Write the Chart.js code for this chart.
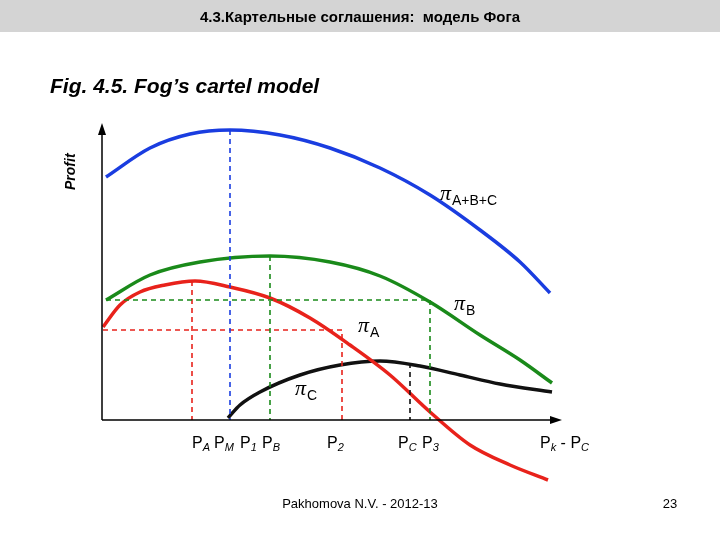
<!DOCTYPE html>
<html><head><meta charset="utf-8">
<script src="https://cdn.jsdelivr.net/npm/chart.js@4.4.0/dist/chart.umd.min.js"></script>
<style>body{margin:0;background:#fff}#wrap{width:720px;height:540px;position:relative}</style>
</head><body><div id="wrap"><canvas id="c" width="720" height="540"></canvas></div>
<script>
// curve data (x: distance from axis origin, y: profit above the x axis)
const profitABC = [[4,243],[48,272],[88,286],[128,290],[178,285],[228,272],[278,252],[328,225],[378,190],[418,158],[448,127]];
const profitB = [[4,120],[48,145],[98,158],[168,164],[228,158],[278,144],[328,118],[378,85],[418,60],[450,37]];
const profitA = [[1,93],[18,115],[38,128],[63,135],[93,139],[128,133],[168,122],[208,102],[248,75],[288,45],[328,8],[368,-25],[408,-45],[446,-60]];
const profitC = [[126,2],[138,15],[158,28],[198,45],[238,55],[278,59],[318,54],[358,45],[398,36],[450,28]];
// x labels: position, then text segments (odd segments are subscripts)
const xLabels = [[90,'P','A'],[112,'P','M'],[138,'P','1'],[160,'P','B'],[225,'P','2'],[296,'P','C'],[320,'P','3'],[438,'P','k',' - P','C']];
const curveLabels = [['π','A+B+C',338,220],['π','B',352,110],['π','A',256,88],['π','C',193,25]];

const red = '#e8221b', green = '#1a8a1a', blue = '#1a3de0', black = '#111';
const dash = (pts, col) => ({data: pts.map(p => ({x: p[0], y: p[1]})), borderColor: col, borderWidth: 1.6, borderDash: [5, 4], pointRadius: 0, tension: 0});
const curve = (pts, col) => ({data: pts.map(p => ({x: p[0], y: p[1]})), borderColor: col, borderWidth: 3.5, pointRadius: 0, tension: 0.4, cubicInterpolationMode: 'monotone'});

const decor = {
  id: 'decor',
  afterDraw(ch) {
    const c = ch.ctx, xs = ch.scales.x, ys = ch.scales.y;
    const X = v => xs.getPixelForValue(v), Y = v => ys.getPixelForValue(v);
    c.save();
    // title band
    c.fillStyle = '#d4d4d4'; c.fillRect(0, 0, 720, 32);
    c.fillStyle = '#000'; c.font = 'bold 15px "Liberation Sans", Arial'; c.textAlign = 'center';
    c.fillText('4.3.Картельные соглашения:  модель Фога', 360, 22);
    c.textAlign = 'left'; c.font = 'bold italic 21px "Liberation Sans", Arial';
    c.fillText('Fig. 4.5. Fog’s cartel model', 50, 93);
    c.save(); c.translate(75, 190); c.rotate(-Math.PI / 2);
    c.font = 'bold italic 14px "Liberation Sans", Arial'; c.fillText('Profit', 0, 0); c.restore();
    // axes
    c.strokeStyle = '#000'; c.lineWidth = 1.5; c.fillStyle = '#000';
    c.beginPath(); c.moveTo(X(0), Y(0)); c.lineTo(X(0), Y(292)); c.moveTo(X(0), Y(0)); c.lineTo(X(455), Y(0)); c.stroke();
    c.beginPath(); c.moveTo(X(0), Y(297)); c.lineTo(X(0) - 4, Y(285)); c.lineTo(X(0) + 4, Y(285)); c.fill();
    c.beginPath(); c.moveTo(X(460), Y(0)); c.lineTo(X(448), Y(0) - 4); c.lineTo(X(448), Y(0) + 4); c.fill();
    // curve labels
    curveLabels.forEach(l => {
      c.font = 'italic 22px "Liberation Serif", serif';
      c.fillText(l[0], X(l[2]), Y(l[3]));
      const w = c.measureText(l[0]).width;
      c.font = '14px "Liberation Sans", Arial'; c.fillText(l[1], X(l[2]) + w + 1, Y(l[3]) + 5);
    });
    // x labels
    xLabels.forEach(l => {
      let px = X(l[0]); const py = Y(0) + 28;
      l.slice(1).forEach((s, i) => {
        c.font = i % 2 ? 'italic 11px "Liberation Sans", Arial' : '16px "Liberation Sans", Arial';
        c.fillText(s, px, py + (i % 2 ? 3 : 0)); px += c.measureText(s).width;
      });
    });
    // footer
    c.font = '13px "Liberation Sans", Arial'; c.textAlign = 'center';
    c.fillText('Pakhomova N.V. - 2012-13', 360, 508);
    c.fillText('23', 670, 508);
    c.restore();
  }
};

new Chart(document.getElementById('c'), {
  type: 'line',
  data: {datasets: [
    dash([[128,290],[128,0]], blue),
    dash([[4,120],[328,120],[328,0]], green), dash([[168,164],[168,0]], green),
    dash([[1,90],[240,90],[240,0]], red), dash([[90,139],[90,0]], red),
    dash([[308,57],[308,0]], black),
    curve(profitABC, blue), curve(profitB, green), curve(profitA, red), curve(profitC, black)
  ]},
  options: {
    responsive: false, animation: false,
    layout: {padding: {left: 102, right: 160, top: 125, bottom: 50}},
    plugins: {legend: {display: false}, tooltip: {enabled: false}},
    scales: {
      x: {type: 'linear', min: 0, max: 458, display: false},
      y: {type: 'linear', min: -70, max: 295, display: false}
    }
  },
  plugins: [decor]
});
</script></body></html>
